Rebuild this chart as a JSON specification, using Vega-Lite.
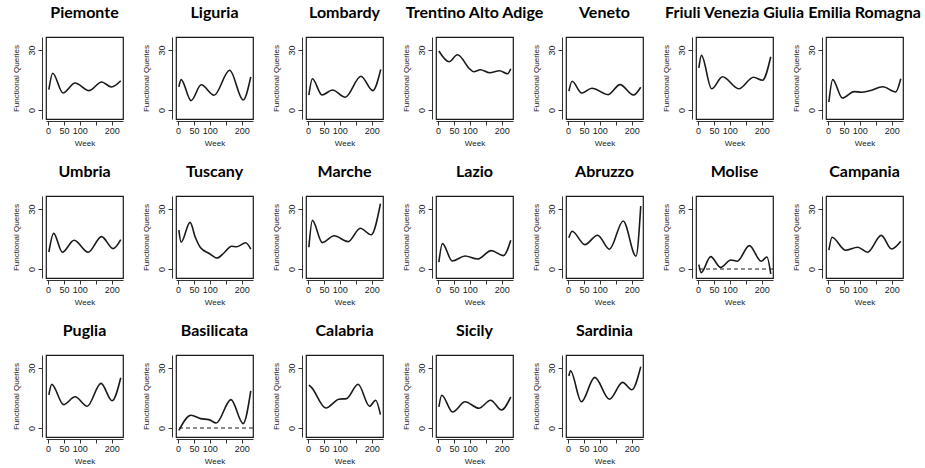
{
  "$schema": "https://vega.github.io/schema/vega-lite/v6.json",
  "padding": {"left": 11, "top": 4, "right": 0, "bottom": 0},
  "background": "white",
  "data": {"values": [
    {"r":"Piemonte","w":3,"v":10.2},{"r":"Piemonte","w":15,"v":18.4},{"r":"Piemonte","w":47,"v":8.5},{"r":"Piemonte","w":85,"v":13.5},{"r":"Piemonte","w":129,"v":9.7},{"r":"Piemonte","w":168,"v":14},{"r":"Piemonte","w":199,"v":11.5},{"r":"Piemonte","w":228,"v":14.6},
    {"r":"Liguria","w":3,"v":11.6},{"r":"Liguria","w":10,"v":15.2},{"r":"Liguria","w":41,"v":4.7},{"r":"Liguria","w":73,"v":12.6},{"r":"Liguria","w":113,"v":7.4},{"r":"Liguria","w":162,"v":19.9},{"r":"Liguria","w":204,"v":5},{"r":"Liguria","w":228,"v":16.6},
    {"r":"Lombardy","w":3,"v":7.4},{"r":"Lombardy","w":14,"v":15.6},{"r":"Lombardy","w":44,"v":7.5},{"r":"Lombardy","w":77,"v":10},{"r":"Lombardy","w":117,"v":6.4},{"r":"Lombardy","w":166,"v":16.9},{"r":"Lombardy","w":203,"v":9.7},{"r":"Lombardy","w":228,"v":20.3},
    {"r":"Trentino Alto Adige","w":3,"v":29.5},{"r":"Trentino Alto Adige","w":35,"v":24.1},{"r":"Trentino Alto Adige","w":61,"v":27.6},{"r":"Trentino Alto Adige","w":101,"v":20.3},{"r":"Trentino Alto Adige","w":112,"v":19.1},{"r":"Trentino Alto Adige","w":133,"v":20.1},{"r":"Trentino Alto Adige","w":162,"v":18.6},{"r":"Trentino Alto Adige","w":193,"v":19.6},{"r":"Trentino Alto Adige","w":218,"v":18.1},{"r":"Trentino Alto Adige","w":228,"v":20.6},
    {"r":"Veneto","w":3,"v":9.4},{"r":"Veneto","w":13,"v":14.4},{"r":"Veneto","w":43,"v":8.5},{"r":"Veneto","w":75,"v":10.9},{"r":"Veneto","w":126,"v":7.7},{"r":"Veneto","w":163,"v":12.7},{"r":"Veneto","w":205,"v":7.5},{"r":"Veneto","w":228,"v":11.4},
    {"r":"Friuli Venezia Giulia","w":3,"v":21.1},{"r":"Friuli Venezia Giulia","w":11,"v":27.3},{"r":"Friuli Venezia Giulia","w":43,"v":10.6},{"r":"Friuli Venezia Giulia","w":77,"v":16.6},{"r":"Friuli Venezia Giulia","w":128,"v":10.6},{"r":"Friuli Venezia Giulia","w":174,"v":16.4},{"r":"Friuli Venezia Giulia","w":202,"v":14.9},{"r":"Friuli Venezia Giulia","w":228,"v":26.6},
    {"r":"Emilia Romagna","w":3,"v":4},{"r":"Emilia Romagna","w":15,"v":15.2},{"r":"Emilia Romagna","w":45,"v":6},{"r":"Emilia Romagna","w":82,"v":9.2},{"r":"Emilia Romagna","w":105,"v":8.9},{"r":"Emilia Romagna","w":130,"v":9.6},{"r":"Emilia Romagna","w":172,"v":11.6},{"r":"Emilia Romagna","w":212,"v":9},{"r":"Emilia Romagna","w":228,"v":15.6},
    {"r":"Umbria","w":3,"v":8.5},{"r":"Umbria","w":18,"v":17.8},{"r":"Umbria","w":45,"v":8.4},{"r":"Umbria","w":82,"v":14.4},{"r":"Umbria","w":126,"v":8.4},{"r":"Umbria","w":168,"v":16.2},{"r":"Umbria","w":204,"v":10.2},{"r":"Umbria","w":228,"v":14.7},
    {"r":"Tuscany","w":3,"v":19.4},{"r":"Tuscany","w":10,"v":13.4},{"r":"Tuscany","w":38,"v":23.3},{"r":"Tuscany","w":55,"v":15.6},{"r":"Tuscany","w":71,"v":10.6},{"r":"Tuscany","w":97,"v":7.9},{"r":"Tuscany","w":123,"v":5.5},{"r":"Tuscany","w":144,"v":8},{"r":"Tuscany","w":168,"v":11.4},{"r":"Tuscany","w":183,"v":11.1},{"r":"Tuscany","w":212,"v":13.1},{"r":"Tuscany","w":228,"v":9.9},
    {"r":"Marche","w":3,"v":10.9},{"r":"Marche","w":14,"v":24.3},{"r":"Marche","w":45,"v":13.2},{"r":"Marche","w":82,"v":16.6},{"r":"Marche","w":126,"v":13.7},{"r":"Marche","w":164,"v":20.4},{"r":"Marche","w":198,"v":17.1},{"r":"Marche","w":227,"v":32.7},
    {"r":"Lazio","w":3,"v":3.4},{"r":"Lazio","w":14,"v":12.7},{"r":"Lazio","w":45,"v":4},{"r":"Lazio","w":85,"v":6.5},{"r":"Lazio","w":124,"v":5},{"r":"Lazio","w":167,"v":9.2},{"r":"Lazio","w":205,"v":6.7},{"r":"Lazio","w":228,"v":14.4},
    {"r":"Abruzzo","w":3,"v":15.6},{"r":"Abruzzo","w":13,"v":18.9},{"r":"Abruzzo","w":53,"v":12.2},{"r":"Abruzzo","w":93,"v":16.9},{"r":"Abruzzo","w":130,"v":9.9},{"r":"Abruzzo","w":173,"v":24},{"r":"Abruzzo","w":213,"v":6.4},{"r":"Abruzzo","w":228,"v":31.5},
    {"r":"Molise","w":3,"v":2.2},{"r":"Molise","w":10,"v":-1.8},{"r":"Molise","w":40,"v":6.2},{"r":"Molise","w":71,"v":0.8},{"r":"Molise","w":103,"v":4.5},{"r":"Molise","w":123,"v":3.9},{"r":"Molise","w":161,"v":11.7},{"r":"Molise","w":198,"v":3.9},{"r":"Molise","w":216,"v":6},{"r":"Molise","w":228,"v":-2.5},
    {"r":"Campania","w":3,"v":9.4},{"r":"Campania","w":13,"v":15.9},{"r":"Campania","w":55,"v":9.4},{"r":"Campania","w":93,"v":10.9},{"r":"Campania","w":124,"v":8.4},{"r":"Campania","w":167,"v":16.8},{"r":"Campania","w":199,"v":10},{"r":"Campania","w":228,"v":13.9},
    {"r":"Puglia","w":3,"v":16.6},{"r":"Puglia","w":12,"v":21.8},{"r":"Puglia","w":49,"v":11.7},{"r":"Puglia","w":85,"v":15.6},{"r":"Puglia","w":123,"v":10.9},{"r":"Puglia","w":166,"v":22.3},{"r":"Puglia","w":201,"v":13.6},{"r":"Puglia","w":228,"v":25.1},
    {"r":"Basilicata","w":3,"v":-1.2},{"r":"Basilicata","w":41,"v":6.4},{"r":"Basilicata","w":71,"v":4.7},{"r":"Basilicata","w":97,"v":4.2},{"r":"Basilicata","w":120,"v":2.5},{"r":"Basilicata","w":166,"v":14.2},{"r":"Basilicata","w":204,"v":2.2},{"r":"Basilicata","w":228,"v":18.6},
    {"r":"Calabria","w":3,"v":21.4},{"r":"Calabria","w":11,"v":20.3},{"r":"Calabria","w":56,"v":10},{"r":"Calabria","w":97,"v":14.4},{"r":"Calabria","w":121,"v":14.7},{"r":"Calabria","w":157,"v":21.9},{"r":"Calabria","w":193,"v":10.9},{"r":"Calabria","w":212,"v":13.9},{"r":"Calabria","w":227,"v":6.7},
    {"r":"Sicily","w":3,"v":10.6},{"r":"Sicily","w":12,"v":16.4},{"r":"Sicily","w":46,"v":8},{"r":"Sicily","w":85,"v":13.1},{"r":"Sicily","w":128,"v":9.9},{"r":"Sicily","w":165,"v":13.9},{"r":"Sicily","w":199,"v":9},{"r":"Sicily","w":228,"v":15.6},
    {"r":"Sardinia","w":3,"v":26},{"r":"Sardinia","w":8,"v":28.6},{"r":"Sardinia","w":42,"v":13.1},{"r":"Sardinia","w":84,"v":25.3},{"r":"Sardinia","w":130,"v":14.4},{"r":"Sardinia","w":171,"v":22.8},{"r":"Sardinia","w":200,"v":19.1},{"r":"Sardinia","w":228,"v":30.7},
    {"r":"Molise","z":0},{"r":"Basilicata","z":0}
  ]},
  "facet": {
    "field": "r",
    "type": "nominal",
    "sort": ["Piemonte","Liguria","Lombardy","Trentino Alto Adige","Veneto","Friuli Venezia Giulia","Emilia Romagna","Umbria","Tuscany","Marche","Lazio","Abruzzo","Molise","Campania","Puglia","Basilicata","Calabria","Sicily","Sardinia"],
    "header": {"title": null, "labelFont": "Lato", "labelFontSize": 16, "labelFontWeight": "bold", "labelColor": "black", "labelPadding": 16}
  },
  "columns": 7,
  "bounds": "flush",
  "spacing": {"column": 53, "row": 77},
  "resolve": {"axis": {"x": "independent", "y": "independent"}},
  "spec": {
    "width": 77,
    "height": 82,
    "layer": [
      {
        "transform": [{"filter": "isValid(datum.v)"}],
        "mark": {"type": "line", "interpolate": "monotone", "color": "#1a1a1a", "strokeWidth": 1.6},
        "encoding": {
          "x": {"field": "w", "type": "quantitative", "scale": {"domain": [-6, 235], "nice": false, "zero": false},
                "axis": {"title": "Week", "values": [0, 50, 100, 150, 200], "labelExpr": "datum.value == 150 ? '' : datum.label"}},
          "y": {"field": "v", "type": "quantitative", "scale": {"domain": [-4.5, 36.5], "nice": false, "zero": false},
                "axis": {"title": "Functional Queries", "values": [0, 10, 20, 30], "labelAngle": -90, "labelAlign": "center", "labelBaseline": "bottom", "labelOverlap": false}}
        }
      },
      {
        "transform": [{"filter": "isValid(datum.z)"}],
        "mark": {"type": "rule", "color": "#1a1a1a", "strokeDash": [4, 3], "strokeWidth": 1.2},
        "encoding": {"y": {"field": "z", "type": "quantitative"}}
      }
    ]
  },
  "config": {
    "view": {"stroke": "#1a1a1a", "strokeWidth": 1.2},
    "axis": {
      "grid": false,
      "labelFont": "Liberation Sans",
      "titleFont": "Liberation Sans",
      "labelFontSize": 9,
      "titleFontSize": 8,
      "titleFontWeight": "normal",
      "labelColor": "#222",
      "titleColor": "#222",
      "domainColor": "#333",
      "tickColor": "#333",
      "tickSize": 4,
      "labelPadding": 2,
      "offset": 4,
      "titlePadding": 7,
      "labelOverlap": false
    },
    "axisX": {"titlePadding": 4, "offset": 2, "labelPadding": 1}
  }
}
